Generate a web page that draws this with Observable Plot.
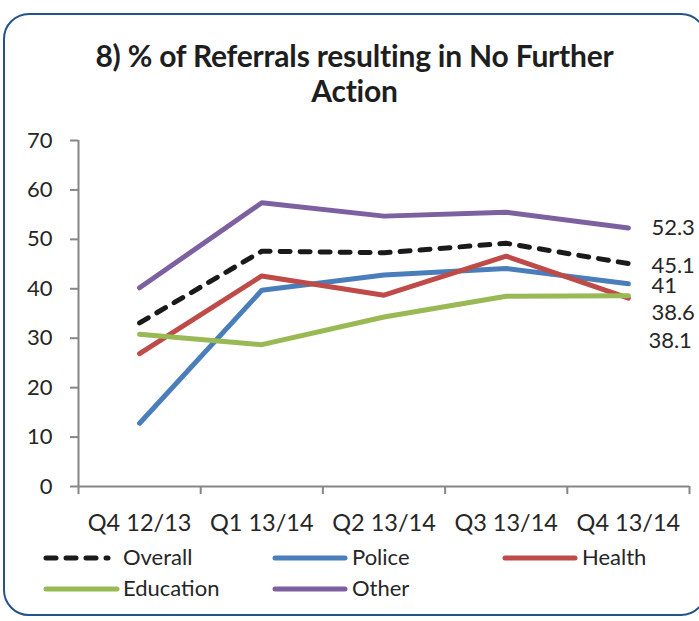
<!DOCTYPE html>
<html>
<head>
<meta charset="utf-8">
<script src="https://cdn.jsdelivr.net/npm/d3@7"></script>
<script src="https://cdn.jsdelivr.net/npm/@observablehq/plot@0.6"></script>
<style>
  html, body { margin: 0; padding: 0; background: #fff; }
  #wrap { position: relative; width: 699px; height: 621px; overflow: hidden; font-family: Lato, "Open Sans", sans-serif; color: #262626; }
  #frame { position: absolute; left: 3px; top: 13px; width: 704px; height: 603px; border: 2px solid #24528a; border-radius: 26px; box-sizing: border-box; }
  #title { position: absolute; left: 0; width: 709px; top: 38px; text-align: center; font-weight: bold; font-size: 30px; line-height: 35px; color: #1e1e1e; letter-spacing: -0.2px; }
  #chart { position: absolute; left: 0; top: 0; }
  .leg { position: absolute; font-size: 22px; line-height: 22px; display: flex; align-items: center; }
</style>
</head>
<body>
<div id="wrap">
  <div id="frame"></div>
  <div id="title">8) % of Referrals resulting in No Further<br>Action</div>
  <div id="chart"></div>
  <div id="legend"></div>
</div>
<script>
const categories = ["Q4 12/13", "Q1 13/14", "Q2 13/14", "Q3 13/14", "Q4 13/14"];
const overall   = [33.1, 47.6, 47.3, 49.2, 45.1];
const police    = [12.8, 39.7, 42.8, 44.1, 41];
const health    = [26.9, 42.6, 38.7, 46.6, 38.1];
const education = [30.8, 28.7, 34.3, 38.5, 38.6];
const other     = [40.2, 57.4, 54.7, 55.5, 52.3];
const seriesNames = ["Overall", "Police", "Health", "Education", "Other"];
const yTicks = [0, 10, 20, 30, 40, 50, 60, 70];

const seriesValues = [overall, police, health, education, other];
const colors = {Overall: "#1a1a1a", Police: "#4a7ebb", Health: "#be4b48", Education: "#98b954", Other: "#7d60a0"};
const data = seriesNames.flatMap((s, k) => seriesValues[k].map((v, i) => ({series: s, i, value: v})));
const last = data.filter(d => d.i === categories.length - 1);
// label nudges (layout only)
const labelDy = {Other: 0, Overall: 2, Police: 2, Education: 17, Health: 43};
const labelDx = {Other: 23, Overall: 23, Police: 23, Education: 23, Health: 20};

const n = categories.length;
const axisGray = "#868686";

const marks = [
  Plot.ruleX([-0.5], {y1: 0, y2: 70, stroke: axisGray, strokeWidth: 2}),
  Plot.ruleY([0], {stroke: axisGray, strokeWidth: 2}),
  Plot.axisY({ticks: yTicks, tickSize: 8, stroke: axisGray, tickFormat: () => "", strokeWidth: 2, label: null}),
  Plot.text(yTicks, {y: d => d, frameAnchor: "left", dx: -26, textAnchor: "end", text: d => String(d), fill: "#262626", fontSize: 22}),
  Plot.axisX({ticks: d3.range(n + 1).map(i => i - 0.5), tickSize: 8, tickFormat: () => "", stroke: axisGray, strokeWidth: 2, label: null}),
  Plot.axisX({ticks: d3.range(n), tickSize: 0, tickPadding: 28, tickFormat: i => categories[i], fontSize: 23.5, label: null})
];
for (const s of seriesNames) {
  const rows = data.filter(d => d.series === s);
  marks.push(Plot.line(rows, {
    x: "i", y: "value", stroke: colors[s], strokeWidth: 5,
    strokeLinecap: "round", strokeLinejoin: "round",
    strokeDasharray: s === "Overall" ? "10,10" : null
  }));
}
for (const d of last) {
  marks.push(Plot.text([d], {x: "i", y: "value", text: d => String(d.value), textAnchor: "start", dx: labelDx[d.series], dy: labelDy[d.series], fill: "#262626", fontSize: 22}));
}

const chart = Plot.plot({
  width: 699, height: 536,
  marginLeft: 78, marginRight: 10, marginTop: 140, marginBottom: 50,
  style: {fontFamily: "Lato, 'Open Sans', sans-serif", fontSize: "22px", color: "#262626", background: "transparent", overflow: "visible"},
  x: {domain: [-0.5, n - 0.5], axis: null},
  y: {domain: [0, 70], axis: null},
  marks
});
document.getElementById("chart").appendChild(chart);

// legend
const legendPos = {
  Overall:   {x: 46,  y: 558, w: 62, tx: 123},
  Police:    {x: 275, y: 558, w: 70, tx: 352},
  Health:    {x: 505, y: 558, w: 70, tx: 582},
  Education: {x: 46,  y: 589, w: 71, tx: 123},
  Other:     {x: 275, y: 589, w: 70, tx: 352}
};
const legend = document.getElementById("legend");
for (const s of seriesNames) {
  const p = legendPos[s];
  const sw = document.createElementNS("http://www.w3.org/2000/svg", "svg");
  sw.setAttribute("width", p.w + 6);
  sw.setAttribute("height", 10);
  sw.style.position = "absolute";
  sw.style.left = (p.x - 3) + "px";
  sw.style.top = (p.y - 5) + "px";
  const ln = document.createElementNS("http://www.w3.org/2000/svg", "line");
  ln.setAttribute("x1", 3); ln.setAttribute("x2", p.w + 3);
  ln.setAttribute("y1", 5); ln.setAttribute("y2", 5);
  ln.setAttribute("stroke", colors[s]);
  ln.setAttribute("stroke-width", 5);
  ln.setAttribute("stroke-linecap", "round");
  if (s === "Overall") ln.setAttribute("stroke-dasharray", "10,10");
  sw.appendChild(ln);
  legend.appendChild(sw);
  const t = document.createElement("div");
  t.className = "leg";
  t.textContent = s;
  t.style.left = p.tx + "px";
  t.style.top = (p.y - 12) + "px";
  legend.appendChild(t);
}
</script>
</body>
</html>
